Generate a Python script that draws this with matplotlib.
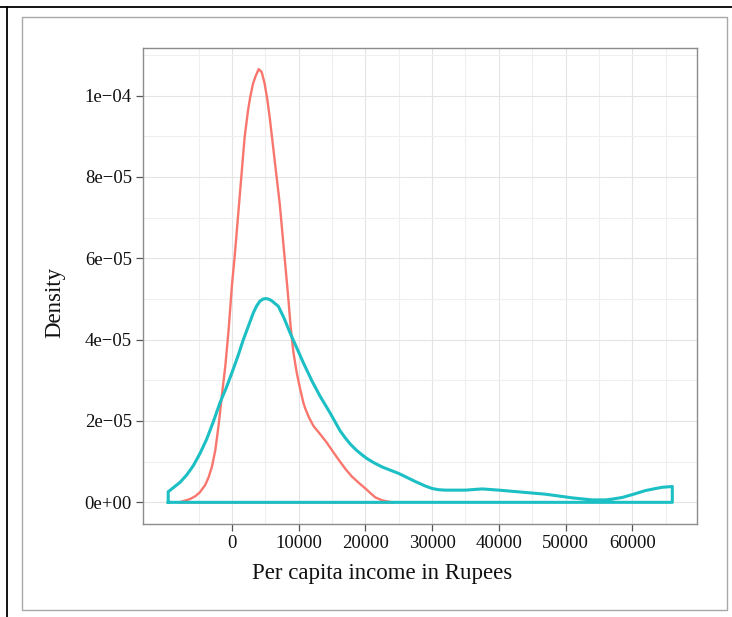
import matplotlib
matplotlib.use("Agg")
import matplotlib.pyplot as plt
from matplotlib.patches import Rectangle
from matplotlib.lines import Line2D
import numpy as np

# ---- data (x in Rupees, density in units of 1e-6) ----
red_x = [-7800, -6300, -5500, -4800, -4000, -3500, -3000, -2500, -2000, -1500, -1000,
         -500, 0, 400, 900, 1400, 1650, 1900, 2400, 2750, 3150, 3500, 4000, 4450,
         4900, 5300, 5650, 6400, 7150, 7900, 8400, 8800, 9200, 9700, 10200, 10700,
         11000, 11500, 12200, 13200, 14200, 15200, 16200, 17100, 18000, 19000,
         20000, 20800, 21500, 22500, 23500, 24200]
red_y = [0.05, 0.8, 1.5, 2.5, 4.3, 6.2, 8.8, 12.8, 19.0, 26.5, 33.5,
         42.5, 53.5, 60.4, 70.2, 80.0, 85.0, 89.8, 96.3, 99.8, 102.9, 104.6, 106.5, 105.8,
         102.9, 99.0, 94.7, 84.1, 73.5, 60.0, 51.0, 43.0, 37.0, 31.9, 28.0, 24.5,
         23.0, 21.0, 18.8, 16.8, 14.7, 12.3, 10.0, 8.0, 6.3, 4.8,
         3.4, 2.2, 1.2, 0.5, 0.15, 0.0]

teal_x = [-9560, -8800, -7800, -6800, -5800, -4800, -3800, -2800, -1800, -900, 0,
          900, 1700, 2500, 3200, 3700, 4200, 4700, 5100, 5600, 6000, 6950, 7800,
          8700, 9700, 10700, 12000, 13200, 14700, 16200, 17000, 17800, 18600,
          19400, 20200, 21200, 22500, 25000, 27500, 29000, 30000, 31000, 32000,
          35000, 37500, 40000, 43500, 47000, 51000, 54000, 56000, 57000, 58500,
          60000, 61000, 62000, 63500, 64500, 66000]
teal_y = [2.6, 3.6, 4.9, 6.7, 9.0, 12.0, 15.5, 19.8, 24.5, 28.0, 31.9,
          36.0, 40.0, 43.5, 46.6, 48.3, 49.5, 50.0, 50.1, 49.9, 49.5, 48.2, 45.3,
          41.7, 38.0, 34.3, 29.8, 26.1, 22.0, 17.6, 15.8, 14.2, 12.9,
          11.8, 10.8, 9.8, 8.7, 7.1, 5.1, 4.0, 3.4, 3.1, 3.0,
          3.0, 3.3, 3.0, 2.5, 2.0, 1.1, 0.6, 0.6, 0.8, 1.2,
          1.9, 2.4, 2.9, 3.4, 3.7, 3.9]

x_ticks = [0, 10000, 20000, 30000, 40000, 50000, 60000]
x_tick_labels = ["0", "10000", "20000", "30000", "40000", "50000", "60000"]
y_ticks = [0, 2e-5, 4e-5, 6e-5, 8e-5, 1e-4]
y_tick_labels = ["0e+00", "2e\u221205", "4e\u221205", "6e\u221205", "8e\u221205", "1e\u221204"]

RED = "#F8766D"
TEAL = "#1BBFC4"

plt.rcParams["font.family"] = ["Liberation Serif", "DejaVu Serif"]

fig = plt.figure(figsize=(7.32, 6.17), dpi=100)
ax = fig.add_axes([143 / 732, 1 - 524 / 617, (697.5 - 143) / 732, (524 - 47.5) / 617])


def closed(xs, ys):
    xs = np.asarray(xs, float)
    ys = np.asarray(ys, float) * 1e-6
    px = np.concatenate([[xs[0]], xs, [xs[-1], xs[0]]])
    py = np.concatenate([[0.0], ys, [0.0, 0.0]])
    return px, py


rx, ry = closed(red_x, red_y)
tx, ty = closed(teal_x, teal_y)
ax.plot(rx, ry, color=RED, lw=1.7, solid_joinstyle="round", zorder=3)
ax.plot(tx, ty, color=TEAL, lw=2.2, solid_joinstyle="round", zorder=4)

# limits with ggplot-style 5% expansion
xmin, xmax = min(teal_x), max(teal_x)
xr = xmax - xmin
ax.set_xlim(xmin - 0.05 * xr, xmax + 0.05 * xr)
ymax = max(red_y) * 1e-6
ax.set_ylim(-0.05 * ymax, ymax * 1.05)

ax.set_xticks(x_ticks)
ax.set_xticklabels(x_tick_labels)
ax.set_yticks(y_ticks)
ax.set_yticklabels(y_tick_labels)
ax.set_xticks(np.arange(-5000, 70000, 10000), minor=True)
ax.set_yticks(np.arange(1e-5, 1.2e-4, 2e-5), minor=True)

ax.grid(True, which="major", color="#e4e4e4", lw=0.8, zorder=0)
ax.grid(True, which="minor", color="#efefef", lw=0.8, zorder=0)
ax.set_axisbelow(True)

ax.tick_params(which="major", length=5, width=0.9, color="#555555",
               labelsize=13.5, labelcolor="#111111", pad=3)
ax.tick_params(which="minor", length=0)
for s in ax.spines.values():
    s.set_color("#8c8c8c")
    s.set_linewidth(1.0)

fig.text(382 / 732, 1 - 573 / 617, "Per capita income in Rupees", ha="center", va="center",
         fontsize=16.5, color="#111111")
fig.text(55 / 732, 1 - 302 / 617, "Density", ha="center", va="center", rotation=90,
         fontsize=16.5, color="#111111")

# outer frames
fig.add_artist(Rectangle((22 / 732, 1 - 610 / 617), (727 - 22) / 732, (610 - 17) / 617,
                         transform=fig.transFigure, fill=False, edgecolor="#a8a8a8", lw=1.0))
fig.add_artist(Line2D([0, 1], [1 - 7 / 617, 1 - 7 / 617], transform=fig.transFigure,
                      color="black", lw=1.3))
fig.add_artist(Line2D([7.5 / 732, 7.5 / 732], [0, 1 - 7 / 617], transform=fig.transFigure,
                      color="black", lw=1.3))

fig.savefig("out.png", dpi=100)
